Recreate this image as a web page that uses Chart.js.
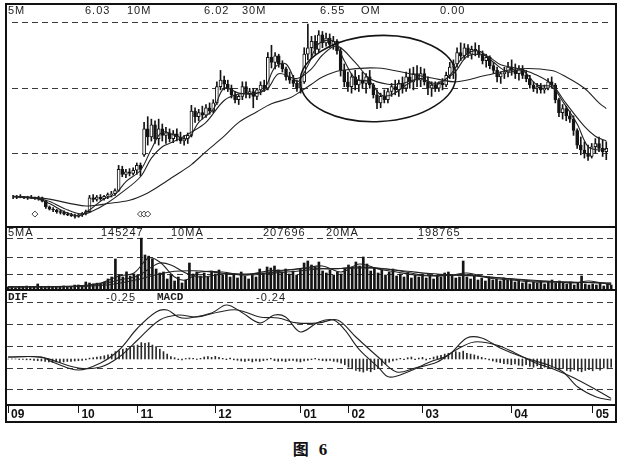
<!DOCTYPE html>
<html lang="zh">
<head>
<meta charset="utf-8">
<title>图 6</title>
<script src="https://cdn.jsdelivr.net/npm/chart.js@4.4.1/dist/chart.umd.min.js"></script>
<style>
  html, body { margin: 0; padding: 0; background: #fff; }
  body { width: 620px; height: 464px; position: relative; overflow: hidden; font-family: "Liberation Sans", Arial, sans-serif; }
  #frame { position: absolute; left: 5px; top: 3px; width: 612px; height: 420px; box-sizing: border-box; border: 2px solid #111; }
  .panel { position: absolute; left: 7px; width: 609px; }
  .rule { position: absolute; left: 5px; width: 612px; height: 2px; background: #111; }
  .hdr { position: absolute; font-size: 11px; letter-spacing: 1px; color: #1e1e1e; line-height: 11px; white-space: nowrap; }
  .mono { font-family: "Liberation Mono", "DejaVu Sans Mono", monospace; font-weight: bold; letter-spacing: 0; }
  #caption { position: absolute; top: 436px; left: 0; width: 620px; text-align: center; color: #111; font-weight: bold; }
  #caption .zh { font-family: "Noto Sans CJK SC", sans-serif; font-size: 16px; }
  #caption .num { font-family: "Liberation Serif", serif; font-size: 17px; margin-left: 10px; }
</style>
</head>
<body>
<div id="frame"></div>

<div class="panel" style="top:5px;height:221px"><canvas id="priceChart"></canvas></div>
<div class="rule" style="top:226px"></div>
<div class="panel" style="top:228px;height:61px"><canvas id="volumeChart"></canvas></div>
<div class="rule" style="top:289px"></div>
<div class="panel" style="top:291px;height:130px"><canvas id="macdChart"></canvas></div>

<span class="hdr" style="left:8px;top:5px">5M</span>
<span class="hdr" style="left:85px;top:5px">6.03</span>
<span class="hdr" style="left:127px;top:5px">10M</span>
<span class="hdr" style="left:204px;top:5px">6.02</span>
<span class="hdr" style="left:242px;top:5px">30M</span>
<span class="hdr" style="left:320px;top:5px">6.55</span>
<span class="hdr" style="left:361px;top:5px">OM</span>
<span class="hdr" style="left:440px;top:5px">0.00</span>

<span class="hdr" style="left:8px;top:227px">5MA</span>
<span class="hdr" style="left:101px;top:227px">145247</span>
<span class="hdr" style="left:171px;top:227px">10MA</span>
<span class="hdr" style="left:263px;top:227px">207696</span>
<span class="hdr" style="left:326px;top:227px">20MA</span>
<span class="hdr" style="left:418px;top:227px">198765</span>

<span class="hdr mono" style="left:8px;top:292px">DIF</span>
<span class="hdr" style="left:106px;top:292px">-0.25</span>
<span class="hdr mono" style="left:157px;top:292px">MACD</span>
<span class="hdr" style="left:256px;top:292px">-0.24</span>

<div id="caption"><span class="zh">图</span><span class="num">6</span></div>

<script>
// daily bars, Sep .. early May
const monthStarts = [0, 19, 35, 56, 79, 92, 112, 136, 158];
const monthLabels = ["09", "10", "11", "12", "01", "02", "03", "04", "05"];

const opens = [
  5.46, 5.46, 5.47, 5.46, 5.45, 5.46, 5.45, 5.44, 5.45, 5.41,
  5.34, 5.31, 5.30, 5.28, 5.27, 5.25, 5.24, 5.23, 5.22, 5.24,
  5.26, 5.28, 5.45, 5.43, 5.46, 5.44, 5.47, 5.49, 5.50, 5.54,
  5.80, 5.74, 5.77, 5.75, 5.79, 5.85, 5.98, 6.30, 6.20, 6.35,
  6.18, 6.30, 6.22, 6.25, 6.18, 6.24, 6.20, 6.15, 6.18, 6.22,
  6.52, 6.45, 6.50, 6.47, 6.56, 6.52, 6.62, 6.82, 6.90, 6.85,
  6.80, 6.72, 6.66, 6.70, 6.82, 6.74, 6.76, 6.70, 6.78, 6.84,
  6.80, 7.18, 7.12, 7.20, 7.10, 7.04, 6.94, 6.90, 6.86, 6.80,
  6.88, 7.22, 7.30, 7.38, 7.28, 7.46, 7.36, 7.42, 7.34, 7.38,
  7.26, 7.02, 6.88, 6.82, 6.94, 6.84, 6.90, 6.86, 6.94, 6.84,
  6.72, 6.62, 6.70, 6.66, 6.76, 6.82, 6.78, 6.86, 6.80, 6.94,
  6.88, 6.98, 6.90, 6.98, 6.88, 6.80, 6.84, 6.80, 6.86, 6.84,
  6.96, 7.06, 7.10, 7.24, 7.20, 7.30, 7.22, 7.28, 7.26, 7.22,
  7.14, 7.18, 7.08, 7.02, 6.94, 6.98, 7.00, 7.06, 7.02, 6.98,
  7.04, 6.96, 6.92, 6.84, 6.80, 6.82, 6.78, 6.80, 6.88, 6.84,
  6.66, 6.50, 6.55, 6.46, 6.42, 6.28, 6.10, 6.04, 6.00, 5.96,
  6.08, 6.12, 6.06, 6.02
];
const highs = [
  5.48, 5.48, 5.49, 5.47, 5.47, 5.48, 5.46, 5.47, 5.46, 5.42,
  5.35, 5.33, 5.31, 5.30, 5.29, 5.27, 5.26, 5.25, 5.25, 5.27,
  5.30, 5.48, 5.49, 5.48, 5.49, 5.48, 5.51, 5.53, 5.56, 5.85,
  5.84, 5.80, 5.81, 5.82, 5.88, 5.88, 6.38, 6.45, 6.42, 6.40,
  6.42, 6.36, 6.32, 6.30, 6.28, 6.30, 6.26, 6.22, 6.25, 6.59,
  6.56, 6.54, 6.58, 6.60, 6.62, 6.66, 6.88, 7.02, 6.95, 6.90,
  6.84, 6.76, 6.72, 6.88, 6.88, 6.80, 6.80, 6.80, 6.88, 6.90,
  7.24, 7.33, 7.24, 7.22, 7.14, 7.06, 7.00, 6.96, 6.90, 6.92,
  7.30, 7.59, 7.44, 7.45, 7.51, 7.50, 7.48, 7.47, 7.44, 7.40,
  7.30, 7.10, 7.00, 6.98, 7.02, 6.96, 7.00, 6.98, 7.02, 6.86,
  6.78, 6.74, 6.78, 6.80, 6.86, 6.90, 6.90, 6.94, 7.00, 7.04,
  7.06, 7.08, 7.06, 7.04, 6.94, 6.88, 6.88, 6.88, 6.92, 7.00,
  7.12, 7.15, 7.30, 7.36, 7.35, 7.34, 7.32, 7.36, 7.33, 7.26,
  7.22, 7.20, 7.12, 7.06, 7.00, 7.06, 7.12, 7.15, 7.10, 7.08,
  7.08, 7.02, 6.96, 6.88, 6.86, 6.86, 6.84, 6.92, 6.94, 6.86,
  6.68, 6.60, 6.58, 6.52, 6.46, 6.30, 6.20, 6.14, 6.10, 6.12,
  6.18, 6.20, 6.16, 6.14
];
const lows = [
  5.44, 5.44, 5.45, 5.44, 5.43, 5.44, 5.43, 5.42, 5.40, 5.32,
  5.30, 5.28, 5.26, 5.25, 5.24, 5.23, 5.22, 5.20, 5.21, 5.22,
  5.24, 5.27, 5.40, 5.41, 5.42, 5.42, 5.44, 5.46, 5.48, 5.53,
  5.71, 5.70, 5.72, 5.73, 5.74, 5.72, 5.96, 6.10, 6.15, 6.12,
  6.10, 6.15, 6.12, 6.14, 6.13, 6.15, 6.12, 6.10, 6.12, 6.20,
  6.38, 6.40, 6.42, 6.44, 6.48, 6.50, 6.60, 6.78, 6.78, 6.76,
  6.68, 6.62, 6.60, 6.66, 6.68, 6.68, 6.56, 6.66, 6.72, 6.76,
  6.78, 7.05, 7.04, 7.06, 7.00, 6.90, 6.86, 6.82, 6.76, 6.74,
  6.86, 7.15, 7.18, 7.22, 7.25, 7.30, 7.32, 7.30, 7.28, 7.22,
  6.95, 6.82, 6.76, 6.74, 6.78, 6.76, 6.80, 6.74, 6.80, 6.68,
  6.55, 6.56, 6.62, 6.62, 6.70, 6.72, 6.70, 6.74, 6.76, 6.80,
  6.78, 6.82, 6.82, 6.84, 6.72, 6.70, 6.76, 6.76, 6.78, 6.82,
  6.92, 6.92, 7.06, 7.14, 7.16, 7.18, 7.16, 7.20, 7.18, 7.10,
  7.06, 7.04, 6.98, 6.88, 6.86, 6.92, 6.94, 6.96, 6.92, 6.90,
  6.92, 6.88, 6.80, 6.76, 6.74, 6.74, 6.74, 6.78, 6.80, 6.62,
  6.45, 6.42, 6.40, 6.38, 6.22, 6.06, 5.98, 5.94, 5.91, 5.94,
  6.00, 6.02, 5.96, 5.92
];
const closes = [
  5.46, 5.47, 5.46, 5.45, 5.46, 5.45, 5.44, 5.45, 5.41, 5.34,
  5.31, 5.30, 5.28, 5.27, 5.25, 5.24, 5.23, 5.22, 5.24, 5.26,
  5.28, 5.45, 5.43, 5.46, 5.44, 5.47, 5.49, 5.50, 5.54, 5.80,
  5.74, 5.77, 5.75, 5.79, 5.85, 5.80, 6.30, 6.20, 6.35, 6.18,
  6.30, 6.22, 6.25, 6.18, 6.24, 6.20, 6.15, 6.18, 6.22, 6.52,
  6.45, 6.50, 6.47, 6.56, 6.52, 6.62, 6.82, 6.90, 6.85, 6.80,
  6.72, 6.66, 6.70, 6.82, 6.74, 6.76, 6.70, 6.78, 6.84, 6.80,
  7.18, 7.12, 7.20, 7.10, 7.04, 6.94, 6.90, 6.86, 6.80, 6.88,
  7.22, 7.30, 7.38, 7.28, 7.46, 7.36, 7.42, 7.34, 7.38, 7.26,
  7.02, 6.88, 6.82, 6.94, 6.84, 6.90, 6.86, 6.94, 6.84, 6.72,
  6.62, 6.70, 6.66, 6.76, 6.82, 6.78, 6.86, 6.80, 6.94, 6.88,
  6.98, 6.90, 6.98, 6.88, 6.80, 6.84, 6.80, 6.86, 6.84, 6.96,
  7.06, 7.10, 7.24, 7.20, 7.30, 7.22, 7.28, 7.26, 7.22, 7.14,
  7.18, 7.08, 7.02, 6.94, 6.98, 7.00, 7.06, 7.02, 6.98, 7.04,
  6.96, 6.92, 6.84, 6.80, 6.82, 6.78, 6.80, 6.88, 6.84, 6.66,
  6.50, 6.55, 6.46, 6.42, 6.28, 6.10, 6.04, 6.00, 5.96, 6.08,
  6.12, 6.06, 6.02, 6.06
];

// price moving averages, read at sample days
const ma5Days = [0, 6, 10, 14, 18, 21, 25, 28, 31, 35, 38, 41, 45, 48, 51, 55, 58, 62, 66, 69, 72, 75, 78, 81, 84, 88, 91, 94, 98, 101, 104, 108, 112, 116, 120, 124, 128, 132, 136, 140, 144, 148, 151, 155, 158, 161, 163];
const ma5Vals = [5.46, 5.45, 5.38, 5.28, 5.23, 5.30, 5.44, 5.49, 5.65, 5.79, 6.05, 6.26, 6.21, 6.18, 6.38, 6.54, 6.80, 6.74, 6.73, 6.79, 7.06, 7.10, 6.88, 7.08, 7.35, 7.38, 7.14, 6.92, 6.88, 6.72, 6.72, 6.84, 6.92, 6.84, 6.96, 7.20, 7.26, 7.12, 7.00, 7.02, 6.84, 6.82, 6.64, 6.36, 6.08, 6.04, 6.05];
const ma10Days = [0, 9, 14, 19, 22, 26, 30, 35, 38, 41, 44, 49, 53, 58, 62, 67, 70, 73, 78, 82, 85, 89, 94, 98, 103, 107, 112, 116, 121, 125, 130, 134, 139, 143, 148, 152, 157, 160, 163];
const ma10Vals = [5.47, 5.42, 5.32, 5.25, 5.29, 5.39, 5.52, 5.71, 5.94, 6.08, 6.14, 6.26, 6.38, 6.65, 6.73, 6.74, 6.80, 6.98, 6.92, 7.04, 7.21, 7.32, 7.12, 6.92, 6.85, 6.86, 6.92, 6.86, 6.98, 7.20, 7.20, 7.09, 7.04, 6.98, 6.85, 6.61, 6.33, 6.21, 6.15];
const ma30Days = [0, 9, 20, 26, 32, 37, 41, 44, 49, 53, 58, 62, 67, 71, 76, 79, 82, 85, 90, 100, 109, 117, 122, 130, 139, 148, 152, 157, 161, 163];
const ma30Vals = [5.47, 5.44, 5.35, 5.38, 5.42, 5.51, 5.62, 5.71, 5.86, 6.02, 6.21, 6.38, 6.51, 6.61, 6.68, 6.76, 6.85, 6.94, 7.02, 7.05, 6.98, 6.91, 6.88, 6.96, 7.04, 7.02, 6.94, 6.80, 6.62, 6.55];

const volumes = [
  72000, 68000, 41000, 75000, 70000, 102000, 66000, 73000, 176000, 71000,
  69000, 98000, 64000, 77000, 70000, 105000, 62000, 74000, 138000, 140000,
  110000, 245000, 210000, 180000, 205000, 190000, 240000, 350000, 420000, 1050000,
  490000, 420000, 600000, 455000, 525000, 490000, 1780000, 1190000, 1150000, 1050000,
  700000, 560000, 595000, 350000, 490000, 280000, 420000, 210000, 315000, 910000,
  525000, 595000, 455000, 560000, 420000, 630000, 525000, 665000, 490000, 560000,
  420000, 525000, 385000, 595000, 455000, 350000, 490000, 420000, 700000, 560000,
  770000, 735000, 805000, 665000, 595000, 700000, 525000, 630000, 490000, 700000,
  910000, 980000, 840000, 770000, 945000, 630000, 560000, 665000, 490000, 595000,
  525000, 700000, 840000, 770000, 945000, 805000, 1120000, 875000, 630000, 735000,
  560000, 665000, 490000, 595000, 700000, 455000, 525000, 420000, 560000, 385000,
  490000, 420000, 525000, 385000, 455000, 350000, 490000, 420000, 560000, 595000,
  455000, 385000, 420000, 980000, 420000, 350000, 455000, 315000, 385000, 280000,
  420000, 315000, 350000, 280000, 385000, 315000, 350000, 245000, 315000, 210000,
  280000, 175000, 245000, 210000, 280000, 175000, 245000, 315000, 210000, 280000,
  210000, 175000, 245000, 140000, 210000, 455000, 175000, 140000, 175000, 140000,
  210000, 105000, 175000, 140000
];
const vma5Days = [0, 18, 25, 30, 34, 38, 41, 45, 48, 52, 58, 64, 70, 75, 80, 85, 90, 95, 100, 105, 110, 115, 120, 124, 130, 136, 142, 148, 153, 157, 163];
const vma5Vals = [70000, 105000, 210000, 455000, 560000, 1085000, 945000, 420000, 315000, 595000, 595000, 490000, 630000, 665000, 735000, 805000, 595000, 875000, 700000, 595000, 490000, 455000, 490000, 560000, 385000, 315000, 245000, 245000, 210000, 280000, 145000];
const vma10Days = [0, 18, 25, 30, 35, 38, 41, 44, 48, 52, 58, 64, 70, 76, 82, 88, 94, 100, 106, 112, 118, 124, 130, 136, 142, 148, 154, 160, 163];
const vma10Vals = [75000, 90000, 175000, 315000, 455000, 700000, 910000, 840000, 560000, 420000, 525000, 525000, 560000, 665000, 735000, 700000, 770000, 735000, 630000, 490000, 470000, 500000, 420000, 350000, 280000, 245000, 230000, 220000, 207000];
const vma20Days = [0, 18, 25, 30, 35, 40, 45, 50, 55, 60, 66, 72, 78, 84, 90, 96, 102, 108, 114, 120, 126, 132, 138, 144, 150, 156, 163];
const vma20Vals = [80000, 85000, 120000, 200000, 330000, 500000, 620000, 640000, 600000, 520000, 500000, 560000, 620000, 700000, 720000, 740000, 700000, 620000, 540000, 490000, 460000, 400000, 340000, 290000, 250000, 225000, 199000];

const difDays = [0, 9, 12, 19, 25, 30, 35, 40, 43, 46, 49, 55, 59, 63, 68, 72, 75, 79, 84, 88, 91, 95, 100, 103, 108, 114, 119, 124, 128, 133, 139, 146, 150, 154, 159, 163];
const difVals = [0.012, 0.012, -0.018, -0.067, -0.024, 0.055, 0.189, 0.287, 0.299, 0.256, 0.25, 0.28, 0.329, 0.287, 0.22, 0.268, 0.256, 0.165, 0.226, 0.238, 0.177, 0.055, -0.049, -0.11, -0.079, -0.018, 0.024, 0.128, 0.128, 0.067, 0.012, -0.037, -0.079, -0.171, -0.232, -0.25];
const deaDays = [0, 9, 19, 25, 30, 35, 41, 46, 51, 57, 62, 68, 73, 78, 84, 89, 94, 100, 105, 110, 116, 121, 126, 132, 137, 142, 148, 153, 159, 163];
const deaVals = [0.012, 0.010, -0.055, -0.049, 0.012, 0.116, 0.238, 0.268, 0.256, 0.287, 0.299, 0.256, 0.25, 0.22, 0.22, 0.238, 0.134, 0.012, -0.079, -0.055, -0.018, 0.055, 0.104, 0.085, 0.037, -0.018, -0.067, -0.116, -0.189, -0.24];
const macdBars = [
  0, 0, 0, -0.003, -0.003, -0.005, -0.005, -0.008, -0.01,
  -0.012, -0.015, -0.018, -0.02, -0.018, -0.02, -0.018, -0.015, -0.015, -0.012, -0.01,
  -0.008, -0.005, 0.005, 0.008, 0.012, 0.015, 0.02,
  0.025, 0.03, 0.045, 0.05, 0.06, 0.065, 0.075, 0.08, 0.085, 0.1, 0.095, 0.1, 0.085, 0.075,
  0.06, 0.045, 0.03, 0.015, 0.008,
  -0.004, -0.006, 0.003, 0.006, 0.004, -0.003, 0.004,
  0.012, 0.015, 0.01, 0.016, 0.01,
  0.004, -0.004, 0.006, -0.005, -0.008,
  -0.012, -0.015, -0.01, -0.018, -0.012, -0.015, -0.01, -0.006, 0.004, -0.01,
  -0.014, -0.012, -0.016, -0.01, -0.008, -0.014, -0.018, -0.012, -0.008, -0.004,
  0.004, -0.006, -0.01, -0.012, -0.008, -0.014, -0.018, -0.025,
  -0.035, -0.05, -0.06, -0.07, -0.075, -0.08, -0.07, -0.078, -0.065, -0.055, -0.04, -0.03, -0.02, -0.012,
  -0.006, 0.004, -0.004, 0.008, 0.012, -0.004, 0.006, 0.01, -0.006, 0.004, 0.012,
  0.018, 0.022, 0.03, 0.035, 0.04, 0.045, 0.04, 0.048, 0.035, 0.03,
  0.025, 0.018, 0.01, 0.004, -0.006, -0.012, -0.018,
  -0.022, -0.028, -0.03, -0.035, -0.03, -0.038, -0.042, -0.035, -0.045, -0.05,
  -0.042, -0.055, -0.05, -0.058, -0.052, -0.06, -0.065, -0.058, -0.07, -0.075,
  -0.065, -0.072, -0.078, -0.07, -0.065, -0.072, -0.06, -0.068, -0.055, -0.06, -0.05
];

// hand-drawn ring and signal marks, in day / price units
const circleMark = { day: 100.3, price: 6.92, daySpan: 21.4, priceSpan: 0.53, tilt: -0.05 };
const signalDays = [6, 35, 36, 37];
const signalPrice = 5.25;

const priceGrid = [7.612, 6.8, 6.0];
const volumeGrid = [1750000, 1120000, 525000];
const macdGrid = [0.3415, 0.2073, 0.0732, -0.0549, -0.189];

const INK = "#141414";
const daily = (vals) => vals.map((v, i) => ({ x: i, y: v }));
const pairs = (days, vals) => days.map((d, k) => ({ x: d, y: vals[k] }));

const flatY = (min, max, grid) => ({
  min: min,
  max: max,
  afterFit: (s) => { s.width = 0; },
  afterBuildTicks: (s) => { s.ticks = grid.map((v) => ({ value: v })); },
  ticks: { display: false },
  grid: { color: "#3a3a3a", lineWidth: 1, drawTicks: false },
  border: { display: false, dash: [6, 4] },
});

const hiddenDays = { type: "linear", min: -0.3, max: 164.3, offset: false, display: false };

const maLine = (days, vals) => ({
  type: "line",
  data: pairs(days, vals),
  borderColor: "#222",
  borderWidth: 1.1,
  pointRadius: 0,
  tension: 0.35,
  order: 0,
});

const chartOptions = (xAxis, yAxis) => ({
  responsive: true,
  maintainAspectRatio: false,
  animation: false,
  events: [],
  layout: { padding: 0 },
  plugins: { legend: { display: false }, tooltip: { enabled: false } },
  scales: { x: xAxis, y: yAxis },
});

const circlePlugin = {
  id: "circleMark",
  afterDatasetsDraw(chart) {
    const { ctx } = chart;
    const x = chart.scales.x;
    const y = chart.scales.y;
    const cx = x.getPixelForValue(circleMark.day);
    const cy = y.getPixelForValue(circleMark.price);
    const rx = x.getPixelForValue(circleMark.day + circleMark.daySpan) - cx;
    const ry = cy - y.getPixelForValue(circleMark.price + circleMark.priceSpan);
    ctx.save();
    ctx.beginPath();
    ctx.ellipse(cx, cy, rx, ry, circleMark.tilt, 0, Math.PI * 2);
    ctx.lineWidth = 1.6;
    ctx.strokeStyle = INK;
    ctx.stroke();
    ctx.restore();
  },
};

const chartsInit = () => {
  if (typeof Chart === "undefined") {
    console.warn("Chart.js is not loaded.");
    return;
  }

  new Chart(document.getElementById("priceChart"), {
    type: "bar",
    data: {
      datasets: [
        {
          data: lows.map((l, i) => ({ x: i, y: [l, highs[i]] })),
          backgroundColor: INK,
          barThickness: 1,
          grouped: false,
          order: 3,
        },
        {
          data: opens.map((o, i) => ({ x: i, y: [o, closes[i]] })),
          backgroundColor: (c) => (closes[c.dataIndex] >= opens[c.dataIndex] ? "#fff" : INK),
          borderColor: INK,
          borderWidth: 1,
          borderSkipped: false,
          barThickness: 3,
          grouped: false,
          order: 2,
        },
        maLine(ma5Days, ma5Vals),
        maLine(ma10Days, ma10Vals),
        maLine(ma30Days, ma30Vals),
        {
          type: "line",
          data: signalDays.map((d) => ({ x: d, y: signalPrice })),
          showLine: false,
          pointStyle: "rectRot",
          pointRadius: 3,
          pointBorderWidth: 1,
          pointBorderColor: "#444",
          pointBackgroundColor: "#fff",
          order: 0,
        },
      ],
    },
    options: chartOptions(hiddenDays, flatY(5.1647, 7.7647, priceGrid)),
    plugins: [circlePlugin],
  });

  new Chart(document.getElementById("volumeChart"), {
    type: "bar",
    data: {
      datasets: [
        {
          data: daily(volumes),
          backgroundColor: INK,
          barThickness: 2,
          grouped: false,
          order: 2,
        },
        maLine(vma5Days, vma5Vals),
        maLine(vma10Days, vma10Vals),
        maLine(vma20Days, vma20Vals),
      ],
    },
    options: chartOptions(hiddenDays, flatY(0, 2135000, volumeGrid)),
  });

  const monthAxis = {
    type: "linear",
    min: -0.3,
    max: 164.3,
    offset: false,
    position: "bottom",
    afterFit: (s) => { s.height = 16; },
    afterBuildTicks: (s) => { s.ticks = monthStarts.map((v) => ({ value: v })); },
    ticks: {
      autoSkip: false,
      maxRotation: 0,
      align: "start",
      padding: -6,
      labelOffset: 3,
      color: "#111",
      font: { family: "Liberation Sans", size: 12, weight: "bold" },
      callback: (v) => monthLabels[monthStarts.indexOf(v)],
    },
    grid: { offset: false, drawOnChartArea: false, drawTicks: true, tickLength: 8, color: INK, lineWidth: 1 },
    border: { display: true, color: "#111", width: 2 },
  };

  new Chart(document.getElementById("macdChart"), {
    type: "bar",
    data: {
      datasets: [
        {
          data: daily(macdBars),
          backgroundColor: "#2a2a2a",
          barThickness: 1,
          grouped: false,
          order: 2,
        },
        maLine(difDays, difVals),
        maLine(deaDays, deaVals),
      ],
    },
    options: chartOptions(monthAxis, flatY(-0.2805, 0.4146, macdGrid)),
  });
};

document.addEventListener("DOMContentLoaded", chartsInit);
</script>
</body>
</html>
